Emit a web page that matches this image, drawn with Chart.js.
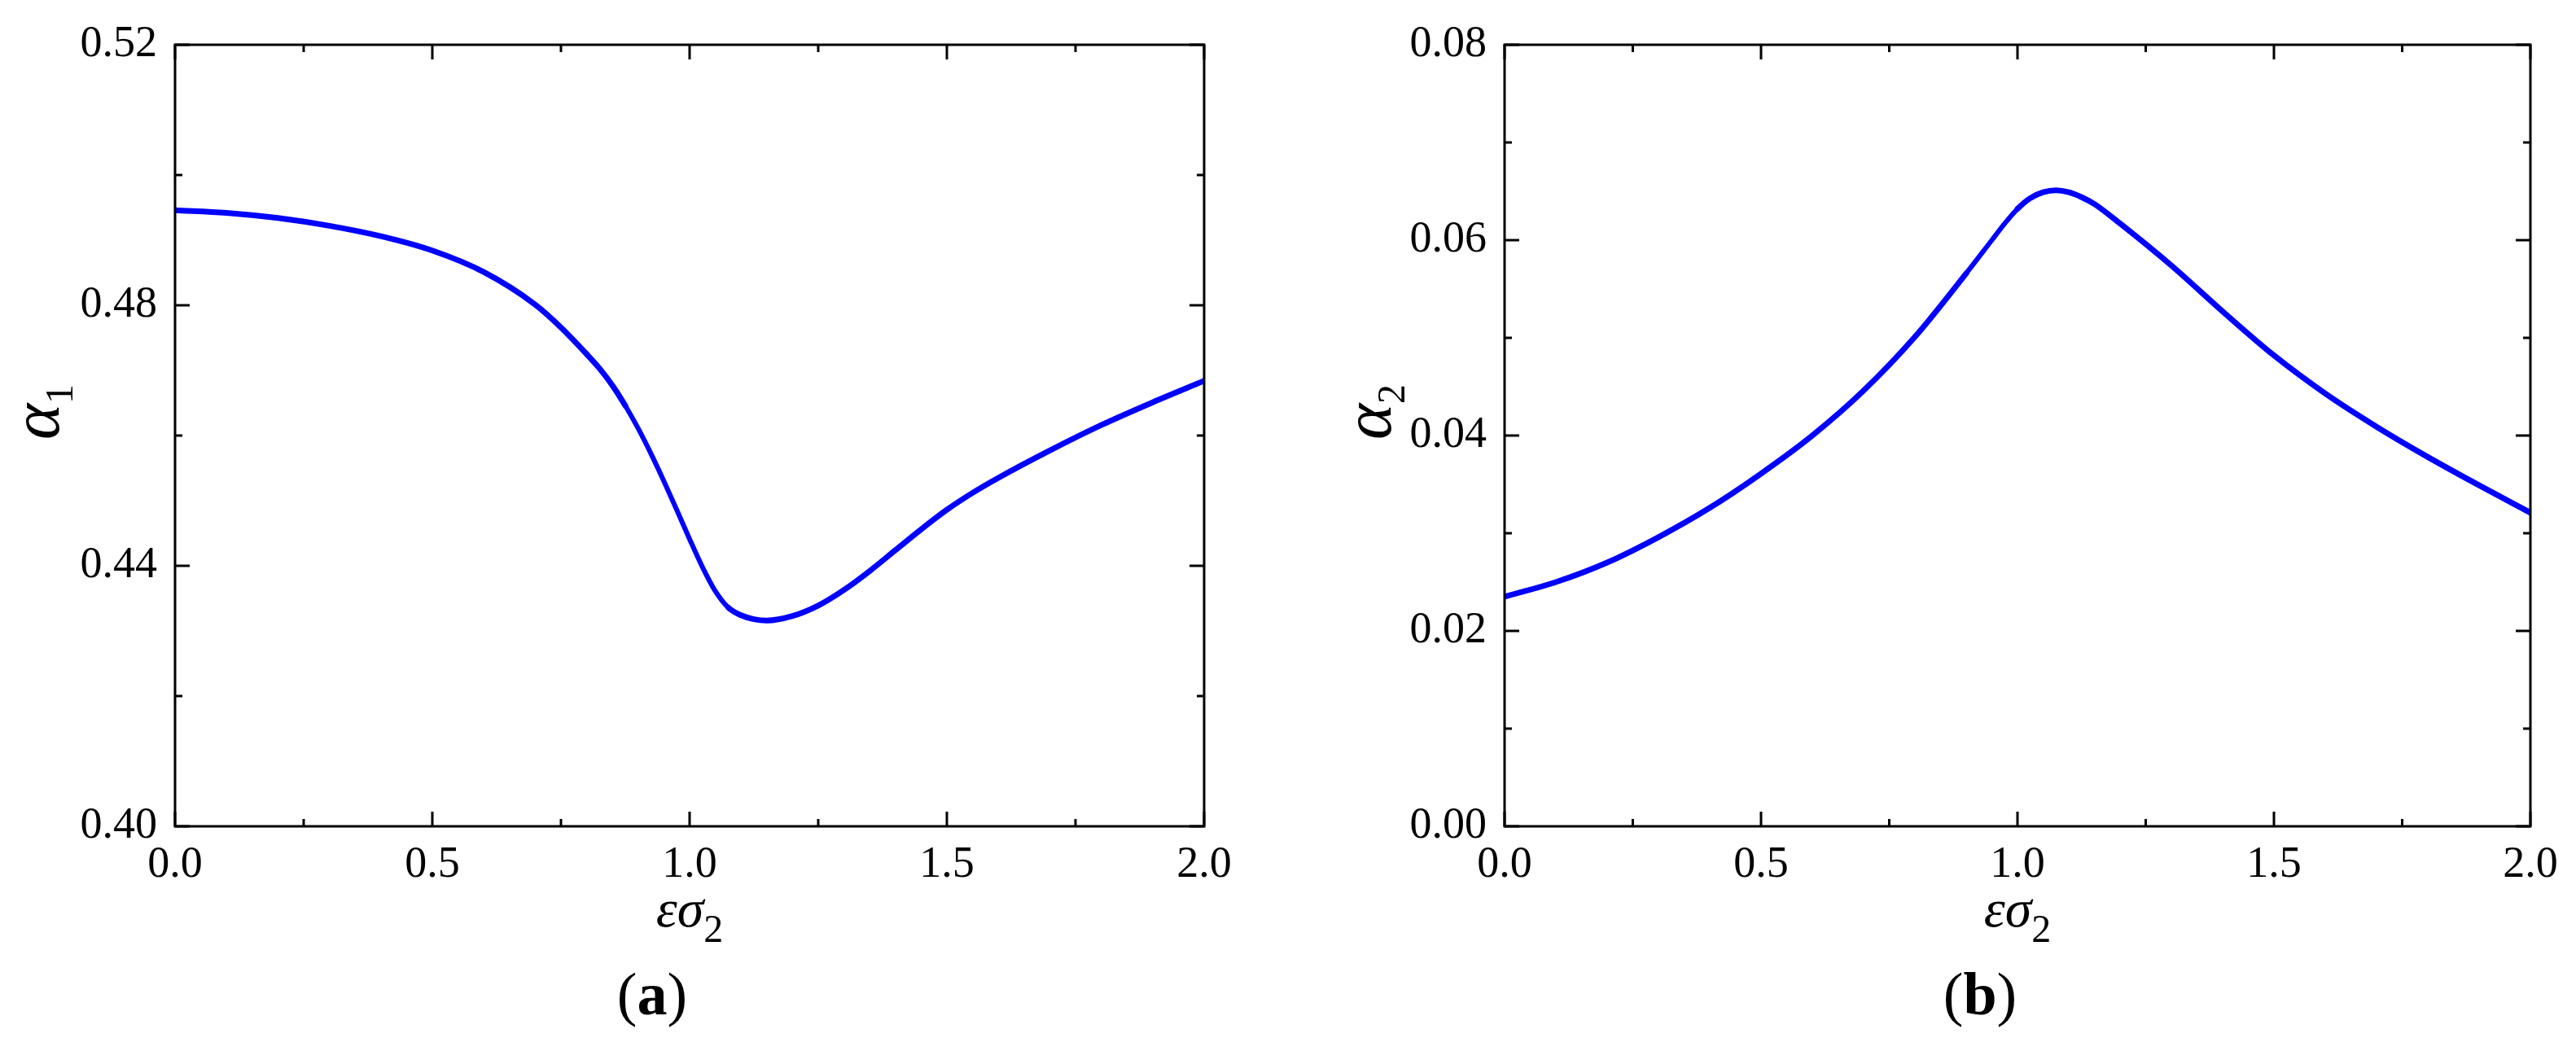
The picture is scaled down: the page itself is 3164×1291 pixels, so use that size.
<!DOCTYPE html>
<html>
<head>
<meta charset="utf-8">
<title>alpha vs eps sigma</title>
<script src="https://cdn.jsdelivr.net/npm/chart.js@4.4.1/dist/chart.umd.min.js"></script>
<style>
  html, body { margin: 0; padding: 0; background: #fff; }
  #wrap { width: 3164px; height: 1291px; position: relative; overflow: hidden; }
  canvas { position: absolute; top: 0; }
  #chartA { left: 0; }
  #chartB { left: 1582px; }
</style>
</head>
<body>
<div id="wrap">
  <canvas id="chartA" width="1582" height="1291"></canvas>
  <canvas id="chartB" width="1582" height="1291"></canvas>
</div>
<script>
// panel (a): alpha_1 against eps*sigma_2
var epsSigmaA = [0, 0.1, 0.2, 0.3, 0.4, 0.5, 0.6, 0.7, 0.75, 0.8, 0.825, 0.85, 0.875, 0.9, 0.925, 0.95, 0.975, 1.0, 1.025, 1.05, 1.075, 1.1, 1.125, 1.15, 1.2, 1.25, 1.3, 1.35, 1.4, 1.45, 1.5, 1.55, 1.6, 1.7, 1.8, 1.9, 2.0];
var alpha1 = [0.4946, 0.4942, 0.4934, 0.4922, 0.4906, 0.4884, 0.4851, 0.4801, 0.4766, 0.4725, 0.4703, 0.4677, 0.4646, 0.4611, 0.4572, 0.4530, 0.4486, 0.4441, 0.4398, 0.4361, 0.4336, 0.4324, 0.4318, 0.4316, 0.4323, 0.4339, 0.4363, 0.4392, 0.4424, 0.4456, 0.4486, 0.4512, 0.4535, 0.4577, 0.4616, 0.4651, 0.4684];

// panel (b): alpha_2 against eps*sigma_2
var epsSigmaB = [0, 0.1, 0.2, 0.3, 0.4, 0.5, 0.6, 0.7, 0.8, 0.9, 0.95, 0.975, 1.0, 1.025, 1.05, 1.075, 1.1, 1.125, 1.15, 1.2, 1.3, 1.4, 1.5, 1.6, 1.7, 1.8, 1.9, 2.0];
var alpha2 = [0.0235, 0.0250, 0.0270, 0.0296, 0.0326, 0.0361, 0.0400, 0.0446, 0.0501, 0.0566, 0.0600, 0.0617, 0.0632, 0.0643, 0.0649, 0.0651, 0.0649, 0.0644, 0.0637, 0.0617, 0.0574, 0.0527, 0.0482, 0.0443, 0.0409, 0.0378, 0.0349, 0.0321];

// tick labels
var xTicks = [0, 0.5, 1.0, 1.5, 2.0];
var yTicksA = [0.40, 0.44, 0.48, 0.52];
var yTicksB = [0.00, 0.02, 0.04, 0.06, 0.08];

var serif = '"Liberation Serif", "Times New Roman", serif';

function toPoints(xs, ys) {
    return xs.map(function(x, i) { return { x: x, y: ys[i] }; });
}

// draw a run of text pieces (for subscripts), centred on x, baseline y
function drawRich(ctx, parts, x, y) {
    var total = 0;
    parts.forEach(function(p) {
        ctx.font = p.font;
        p.w = ctx.measureText(p.text).width;
        total += p.w;
    });
    var cx = x - total / 2;
    ctx.textAlign = 'left';
    ctx.textBaseline = 'alphabetic';
    parts.forEach(function(p) {
        ctx.font = p.font;
        ctx.fillText(p.text, cx, y + (p.dy || 0));
        cx += p.w;
    });
}

// box frame, inward ticks on all four sides, axis titles and caption
var framePlugin = {
    id: 'frame',
    afterDatasetsDraw: function(chart, args, opts) {
        var ctx = chart.ctx;
        var a = chart.chartArea;
        var xs = chart.scales.x, ys = chart.scales.y;
        ctx.save();
        ctx.strokeStyle = '#000';
        ctx.fillStyle = '#000';
        ctx.lineWidth = 3;
        ctx.strokeRect(a.left, a.top, a.right - a.left, a.bottom - a.top);

        function xTick(v, len) {
            var px = xs.getPixelForValue(v);
            ctx.beginPath();
            ctx.moveTo(px, a.bottom); ctx.lineTo(px, a.bottom - len);
            ctx.moveTo(px, a.top); ctx.lineTo(px, a.top + len);
            ctx.stroke();
        }
        function yTick(v, len) {
            var py = ys.getPixelForValue(v);
            ctx.beginPath();
            ctx.moveTo(a.left, py); ctx.lineTo(a.left + len, py);
            ctx.moveTo(a.right, py); ctx.lineTo(a.right - len, py);
            ctx.stroke();
        }
        var i;
        for (i = 0; i < xTicks.length; i++) {
            xTick(xTicks[i], 18);
            if (i < xTicks.length - 1) xTick((xTicks[i] + xTicks[i + 1]) / 2, 9);
        }
        var yt = opts.yTicks;
        for (i = 0; i < yt.length; i++) {
            yTick(yt[i], 18);
            if (i < yt.length - 1) yTick((yt[i] + yt[i + 1]) / 2, 9);
        }

        var midX = (a.left + a.right) / 2;
        // x axis title
        drawRich(ctx, [
            { text: 'εσ', font: 'italic 66px ' + serif },
            { text: '2', font: '48px ' + serif, dy: 19 }
        ], midX, 1138);

        // caption (a)/(b)
        drawRich(ctx, [
            { text: '(', font: '74px ' + serif },
            { text: opts.caption, font: 'bold 74px ' + serif },
            { text: ')', font: '74px ' + serif }
        ], midX - 46, 1246);

        // y axis title, rotated
        ctx.translate(opts.yTitleX, 506);
        ctx.rotate(-Math.PI / 2);
        drawRich(ctx, [
            { text: 'α', font: 'italic 84px ' + serif },
            { text: opts.ySub, font: '48px ' + serif, dy: 17 }
        ], 0, 0);
        ctx.restore();
    }
};

function makeChart(id, xs, ys, yMin, yMax, yTicks, yWidth, rightPad, thinFrom, thinTo, opts) {
    var ctx = document.getElementById(id).getContext('2d');
    return new Chart(ctx, {
        type: 'scatter',
        data: {
            datasets: [{
                data: toPoints(xs, ys),
                showLine: true,
                borderColor: '#0000ff',
                backgroundColor: '#0000ff',
                borderWidth: 7,
                borderCapStyle: 'round',
                borderJoinStyle: 'round',
                pointRadius: 0,
                cubicInterpolationMode: 'monotone',
                // the steep part is sparse dots in the original, so it reads a bit thinner
                segment: {
                    borderWidth: function(c) {
                        var x0 = c.p0.parsed.x;
                        return (x0 >= thinFrom && x0 < thinTo) ? 6 : 7;
                    }
                }
            }]
        },
        options: {
            responsive: false,
            animation: false,
            devicePixelRatio: 1,
            layout: { padding: { top: 55, right: rightPad, left: 0, bottom: 0 } },
            plugins: {
                legend: { display: false },
                tooltip: { enabled: false },
                frame: opts
            },
            scales: {
                x: {
                    type: 'linear',
                    min: 0,
                    max: 2,
                    grid: { display: false, drawTicks: false },
                    border: { display: false },
                    afterBuildTicks: function(s) { s.ticks = xTicks.map(function(v) { return { value: v }; }); },
                    afterFit: function(s) { s.height = 276; },
                    ticks: {
                        color: '#000',
                        padding: 15,
                        maxRotation: 0,
                        font: { family: serif, size: 54 },
                        callback: function(v) { return Number(v).toFixed(1); }
                    }
                },
                y: {
                    type: 'linear',
                    min: yMin,
                    max: yMax,
                    grid: { display: false, drawTicks: false },
                    border: { display: false },
                    afterBuildTicks: function(s) { s.ticks = yTicks.map(function(v) { return { value: v }; }); },
                    afterFit: function(s) { s.width = yWidth; },
                    ticks: {
                        color: '#000',
                        padding: 22,
                        font: { family: serif, size: 54 },
                        callback: function(v) { return Number(v).toFixed(2); }
                    }
                }
            }
        },
        plugins: [framePlugin]
    });
}

var chartA = makeChart('chartA', epsSigmaA, alpha1, 0.40, 0.52, yTicksA, 215, 103, 0.875, 1.075,
    { yTicks: yTicksA, caption: 'a', ySub: '1', yTitleX: 72 });
var chartB = makeChart('chartB', epsSigmaB, alpha2, 0.00, 0.08, yTicksB, 266, 56, 0.9, 1.0,
    { yTicks: yTicksB, caption: 'b', ySub: '2', yTitleX: 126 });
</script>
</body>
</html>
